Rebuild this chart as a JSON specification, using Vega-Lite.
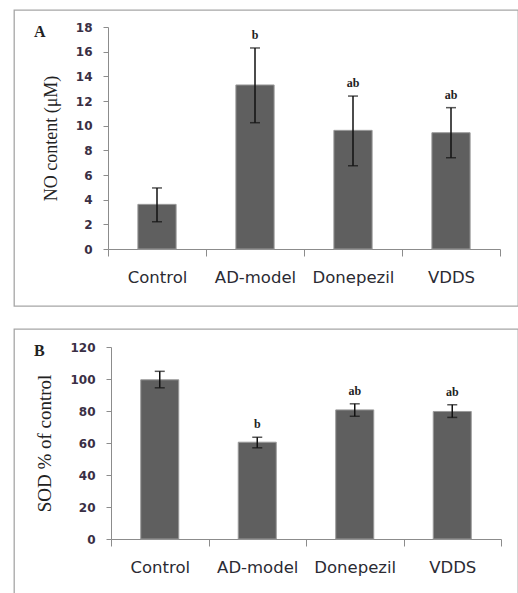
{
  "$schema": "https://vega.github.io/schema/vega-lite/v6.json",
  "padding": {"left": 13, "top": 9, "right": 0, "bottom": 0},
  "background": "white",
  "spacing": 21,
  "config": {
    "view": {"stroke": "#a6a6a6", "strokeWidth": 1.3},
    "axis": {
      "domainColor": "#8c8c8c",
      "tickColor": "#8c8c8c",
      "grid": false,
      "labelOverlap": false
    },
    "axisY": {
      "tickSize": 5, "labelPadding": 11, "labelOverlap": false,
      "labelFont": "DejaVu Sans", "labelFontWeight": "bold", "labelFontSize": 12, "labelColor": "#3a2f45",
      "titleFont": "Liberation Serif", "titleFontWeight": "normal", "titleColor": "#222",
      "titlePadding": 15
    },
    "title": {"font": "Liberation Serif", "fontWeight": "bold", "fontSize": 16, "color": "#222"}
  },
  "vconcat": [
    {
      "width": 504,
      "height": 296,
      "title": {"text": "A", "anchor": "start", "frame": "group", "offset": -29.5, "dx": 20},
      "data": {"values": [
        {"group": "Control", "mean": 3.62, "lo": 2.21, "hi": 4.95, "sig": ""},
        {"group": "AD-model", "mean": 13.3, "lo": 10.24, "hi": 16.3, "sig": "b"},
        {"group": "Donepezil", "mean": 9.62, "lo": 6.75, "hi": 12.4, "sig": "ab"},
        {"group": "VDDS", "mean": 9.43, "lo": 7.4, "hi": 11.46, "sig": "ab"}
      ]},
      "encoding": {
        "x": {
          "field": "group", "type": "nominal", "sort": null,
          "scale": {"range": [94, 486], "paddingInner": 0, "paddingOuter": 0},
          "axis": {
            "title": null, "labelAngle": 0, "offset": -57, "tickBand": "extent",
            "tickSize": 7, "labelPadding": 13, "labelFont": "DejaVu Sans", "labelFontSize": 16.5,
            "labelColor": "#2b2b33"
          }
        }
      },
      "layer": [
        {
          "mark": {"type": "bar", "width": {"band": 0.39}, "fill": "#5f5f5f", "stroke": "#9a9a9a", "strokeWidth": 1},
          "encoding": {
            "y": {
              "field": "mean", "type": "quantitative",
              "scale": {"domain": [0, 18], "range": [239, 17], "nice": false, "zero": true},
              "axis": {"title": "NO content (μM)", "values": [0, 2, 4, 6, 8, 10, 12, 14, 16, 18], "offset": -94, "titleFontSize": 18}
            }
          }
        },
        {
          "mark": {"type": "rule", "color": "#111", "strokeWidth": 1.5},
          "encoding": {
            "y": {"field": "lo", "type": "quantitative", "axis": {"title": "NO content (μM)", "values": [0, 2, 4, 6, 8, 10, 12, 14, 16, 18], "offset": -94, "titleFontSize": 18}},
            "y2": {"field": "hi"}
          }
        },
        {
          "mark": {"type": "tick", "color": "#111", "size": 10, "thickness": 1.5},
          "encoding": {"y": {"field": "lo", "type": "quantitative", "axis": {"title": "NO content (μM)", "values": [0, 2, 4, 6, 8, 10, 12, 14, 16, 18], "offset": -94, "titleFontSize": 18}}}
        },
        {
          "mark": {"type": "tick", "color": "#111", "size": 10, "thickness": 1.5},
          "encoding": {"y": {"field": "hi", "type": "quantitative", "axis": {"title": "NO content (μM)", "values": [0, 2, 4, 6, 8, 10, 12, 14, 16, 18], "offset": -94, "titleFontSize": 18}}}
        },
        {
          "mark": {"type": "text", "font": "Liberation Serif", "fontWeight": "bold", "fontSize": 12, "baseline": "bottom", "dy": -6, "color": "#222"},
          "encoding": {
            "y": {"field": "hi", "type": "quantitative", "axis": {"title": "NO content (μM)", "values": [0, 2, 4, 6, 8, 10, 12, 14, 16, 18], "offset": -94, "titleFontSize": 18}},
            "text": {"field": "sig"}
          }
        }
      ]
    },
    {
      "width": 504,
      "height": 272,
      "title": {"text": "B", "anchor": "start", "frame": "group", "offset": -29.5, "dx": 20},
      "data": {"values": [
        {"group": "Control", "mean": 99.5, "lo": 94.5, "hi": 104.8, "sig": ""},
        {"group": "AD-model", "mean": 60.5, "lo": 57.0, "hi": 63.6, "sig": "b"},
        {"group": "Donepezil", "mean": 80.7, "lo": 76.7, "hi": 84.5, "sig": "ab"},
        {"group": "VDDS", "mean": 79.7, "lo": 76.0, "hi": 83.9, "sig": "ab"}
      ]},
      "encoding": {
        "x": {
          "field": "group", "type": "nominal", "sort": null,
          "scale": {"range": [97, 487], "paddingInner": 0, "paddingOuter": 0},
          "axis": {
            "title": null, "labelAngle": 0, "offset": -62, "tickBand": "extent",
            "tickSize": 7, "labelPadding": 13, "labelFont": "DejaVu Sans", "labelFontSize": 16.5,
            "labelColor": "#2b2b33"
          }
        }
      },
      "layer": [
        {
          "mark": {"type": "bar", "width": {"band": 0.39}, "fill": "#5f5f5f", "stroke": "#9a9a9a", "strokeWidth": 1},
          "encoding": {
            "y": {
              "field": "mean", "type": "quantitative",
              "scale": {"domain": [0, 120], "range": [210, 18], "nice": false, "zero": true},
              "axis": {"title": "SOD % of control", "values": [0, 20, 40, 60, 80, 100, 120], "offset": -97, "titleFontSize": 19}
            }
          }
        },
        {
          "mark": {"type": "rule", "color": "#111", "strokeWidth": 1.5},
          "encoding": {
            "y": {"field": "lo", "type": "quantitative", "axis": {"title": "SOD % of control", "values": [0, 20, 40, 60, 80, 100, 120], "offset": -97, "titleFontSize": 19}},
            "y2": {"field": "hi"}
          }
        },
        {
          "mark": {"type": "tick", "color": "#111", "size": 10, "thickness": 1.5},
          "encoding": {"y": {"field": "lo", "type": "quantitative", "axis": {"title": "SOD % of control", "values": [0, 20, 40, 60, 80, 100, 120], "offset": -97, "titleFontSize": 19}}}
        },
        {
          "mark": {"type": "tick", "color": "#111", "size": 10, "thickness": 1.5},
          "encoding": {"y": {"field": "hi", "type": "quantitative", "axis": {"title": "SOD % of control", "values": [0, 20, 40, 60, 80, 100, 120], "offset": -97, "titleFontSize": 19}}}
        },
        {
          "mark": {"type": "text", "font": "Liberation Serif", "fontWeight": "bold", "fontSize": 12, "baseline": "bottom", "dy": -6, "color": "#222"},
          "encoding": {
            "y": {"field": "hi", "type": "quantitative", "axis": {"title": "SOD % of control", "values": [0, 20, 40, 60, 80, 100, 120], "offset": -97, "titleFontSize": 19}},
            "text": {"field": "sig"}
          }
        }
      ]
    }
  ]
}
